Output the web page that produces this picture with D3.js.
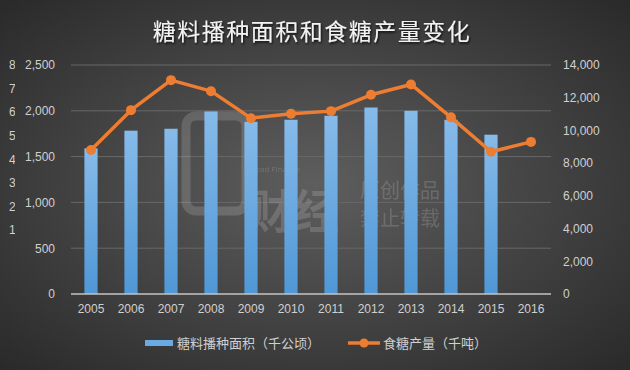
<!DOCTYPE html>
<html>
<head>
<meta charset="utf-8">
<script src="https://cdn.jsdelivr.net/npm/d3@7"></script>
<style>
  html, body { margin: 0; padding: 0; background: #333; }
  svg { display: block; font-family: "Noto Sans CJK SC", "Noto Sans", sans-serif; }
</style>
</head>
<body>
<div id="app"></div>
<script>
// data
let years = ["2005", "2006", "2007", "2008", "2009", "2010", "2011", "2012", "2013", "2014", "2015", "2016"]
let area = [1590, 1783, 1804, 1993, 1880, 1902, 1946, 2036, 2000, 1902, 1739, null]   // 糖料播种面积（千公顷）
let sugar = [8800, 11240, 13075, 12400, 10750, 11020, 11180, 12180, 12810, 10800, 8695, 9300]  // 食糖产量（千吨）
let leftTicks = [0, 500, 1000, 1500, 2000, 2500]
let rightTicks = [0, 2000, 4000, 6000, 8000, 10000, 12000, 14000]
let clippedTicks = [1, 2, 3, 4, 5, 6, 7, 8]
let title = "糖料播种面积和食糖产量变化"
let legendNames = ["糖料播种面积（千公顷）", "食糖产量（千吨）"]

let width = 630
let height = 370
let margin = {top: 65, right: 79, bottom: 76, left: 71}

let svg = d3.select("#app").append("svg")
    .attr("width", width)
    .attr("height", height)

let defs = svg.append("defs")

let bg = defs.append("radialGradient").attr("id", "bg")
    .attr("cx", "50%").attr("cy", "50%").attr("r", "70%")
bg.append("stop").attr("offset", "0%").attr("stop-color", "#5e5e5e")
bg.append("stop").attr("offset", "100%").attr("stop-color", "#2a2a2a")

let barGrad = defs.append("linearGradient").attr("id", "barGrad")
    .attr("x1", 0).attr("y1", 0).attr("x2", 0).attr("y2", 1)
barGrad.append("stop").attr("offset", "0%").attr("stop-color", "#86bbea")
barGrad.append("stop").attr("offset", "100%").attr("stop-color", "#4f97d6")

let shadow = defs.append("filter").attr("id", "shadow")
shadow.append("feDropShadow").attr("dx", 1).attr("dy", 1.5)
    .attr("stdDeviation", 1).attr("flood-color", "#000").attr("flood-opacity", 0.8)

defs.append("clipPath").attr("id", "cut")
    .append("rect").attr("x", 0).attr("y", 0).attr("width", 15).attr("height", height)

svg.append("rect")
    .attr("width", width).attr("height", height)
    .attr("fill", "url(#bg)")

// title
svg.append("text")
    .attr("x", 312).attr("y", 40)
    .attr("text-anchor", "middle")
    .attr("fill", "#f2f2f2")
    .attr("font-size", 23)
    .attr("letter-spacing", 1.5)
    .attr("filter", "url(#shadow)")
    .text(title)

// scales
let x = d3.scaleBand()
    .domain(years)
    .range([margin.left, width - margin.right])
    .paddingInner(0.67)
    .paddingOuter(0.335)

let yL = d3.scaleLinear().domain([0, 2500]).range([height - margin.bottom, margin.top])
let yR = d3.scaleLinear().domain([0, 14000]).range([height - margin.bottom, margin.top])
let yC = d3.scaleLinear().domain([1, 8]).range([230, 65])

let fmt = d3.format(",")

// gridlines
svg.append("g")
    .selectAll("line")
    .data(leftTicks.slice(1))
    .join("line")
    .attr("x1", margin.left).attr("x2", width - margin.right)
    .attr("y1", d => yL(d)).attr("y2", d => yL(d))
    .attr("stroke", "#686868").attr("stroke-width", 1)

// left axis
let axL = svg.append("g")
    .attr("transform", `translate(${margin.left - 16},0)`)
    .call(d3.axisLeft(yL).tickValues(leftTicks).tickFormat(fmt).tickSize(0).tickPadding(0))
axL.select(".domain").remove()
axL.selectAll("text").attr("fill", "#d0d0d0").attr("font-size", 12)

// right axis
let axR = svg.append("g")
    .attr("transform", `translate(${width - margin.right + 12},0)`)
    .call(d3.axisRight(yR).tickValues(rightTicks).tickFormat(fmt).tickSize(0).tickPadding(0))
axR.select(".domain").remove()
axR.selectAll("text").attr("fill", "#d0d0d0").attr("font-size", 12)

// partly hidden axis at the far left, cut by the chart edge
let axC = svg.append("g")
    .attr("clip-path", "url(#cut)")
    .append("g")
    .attr("transform", "translate(9,0)")
    .call(d3.axisLeft(yC).tickValues(clippedTicks).tickFormat(d => d).tickSize(0).tickPadding(0))
axC.select(".domain").remove()
axC.selectAll("text").attr("fill", "#d0d0d0").attr("font-size", 12).attr("text-anchor", "start").attr("x", 0)

// watermark
let wm = svg.append("g").attr("opacity", 0.15).attr("fill", "#fff")
wm.append("rect").attr("x", 186).attr("y", 116).attr("width", 60).attr("height", 95)
    .attr("rx", 10).attr("fill", "none").attr("stroke", "#fff").attr("stroke-width", 9)
wm.append("text").attr("x", 247).attr("y", 172).attr("font-size", 8)
    .attr("font-family", "Open Sans, sans-serif").text("Bread Finance")
wm.append("text").attr("x", 247).attr("y", 228).attr("font-size", 46).attr("font-weight", "bold").text("财经")
wm.append("text").attr("x", 360).attr("y", 198).attr("font-size", 20).text("原创作品")
wm.append("text").attr("x", 360).attr("y", 226).attr("font-size", 20).text("禁止转载")

// bars
svg.append("g")
    .selectAll("rect")
    .data(years.map((y, i) => ({year: y, v: area[i]})).filter(d => d.v != null))
    .join("rect")
    .attr("x", d => x(d.year))
    .attr("width", x.bandwidth())
    .attr("y", d => yL(d.v))
    .attr("height", d => yL(0) - yL(d.v))
    .attr("fill", "url(#barGrad)")

// baseline
svg.append("line")
    .attr("x1", margin.left).attr("x2", width - margin.right)
    .attr("y1", yL(0)).attr("y2", yL(0))
    .attr("stroke", "#c4c4c4").attr("stroke-width", 1.5)

// x axis labels
let axX = svg.append("g")
    .attr("transform", `translate(0,${yL(0) + 8})`)
    .call(d3.axisBottom(x).tickSize(0).tickPadding(2))
axX.select(".domain").remove()
axX.selectAll("text").attr("fill", "#d0d0d0").attr("font-size", 12)

// line
let pts = years.map((y, i) => ({year: y, v: sugar[i]}))
let line = d3.line()
    .x(d => x(d.year) + x.bandwidth() / 2)
    .y(d => yR(d.v))

svg.append("path")
    .datum(pts)
    .attr("d", line)
    .attr("fill", "none")
    .attr("stroke", "#ed7d31")
    .attr("stroke-width", 3.5)
    .attr("stroke-linejoin", "round")

svg.append("g")
    .selectAll("circle")
    .data(pts)
    .join("circle")
    .attr("cx", d => x(d.year) + x.bandwidth() / 2)
    .attr("cy", d => yR(d.v))
    .attr("r", 5)
    .attr("fill", "#ed7d31")

// legend
let lg = svg.append("g").attr("font-size", 13).attr("fill", "#d0d0d0")
lg.append("rect").attr("x", 145).attr("y", 340).attr("width", 28).attr("height", 6).attr("fill", "#6aaae2")
lg.append("text").attr("x", 177).attr("y", 348).text(legendNames[0])
lg.append("line").attr("x1", 348).attr("x2", 380).attr("y1", 343).attr("y2", 343)
    .attr("stroke", "#ed7d31").attr("stroke-width", 3.5)
lg.append("circle").attr("cx", 364).attr("cy", 343).attr("r", 4.5).attr("fill", "#ed7d31")
lg.append("text").attr("x", 383).attr("y", 348).text(legendNames[1])
</script>
</body>
</html>
